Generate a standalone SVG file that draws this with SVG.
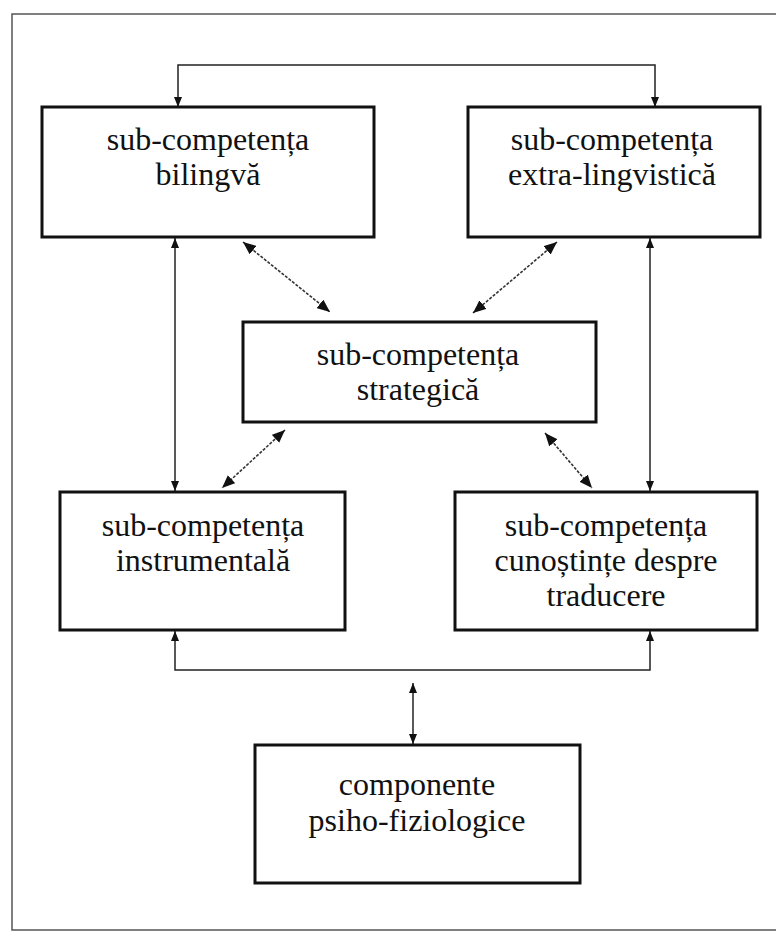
<svg xmlns="http://www.w3.org/2000/svg" width="776" height="932" viewBox="0 0 776 932">
<defs>
<style>
.box{fill:#fff;stroke:#111;stroke-width:3}
.t{font-family:"Liberation Serif","Times New Roman",serif;font-size:32px;fill:#111;text-anchor:middle}
.c{fill:none;stroke:#222;stroke-width:1.5}
.d{fill:none;stroke:#333;stroke-width:1.6;stroke-dasharray:3 1.5}
.frame{fill:none;stroke:#555;stroke-width:1.5}
</style>
<marker id="a" viewBox="0 0 10 8" refX="10" refY="4" markerWidth="10" markerHeight="8" markerUnits="userSpaceOnUse" orient="auto-start-reverse"><path d="M0,0 L10,4 L0,8 Z" fill="#111"/></marker>
<marker id="b" viewBox="0 0 13 11" refX="13" refY="5.5" markerWidth="13" markerHeight="11" markerUnits="userSpaceOnUse" orient="auto-start-reverse"><path d="M0,0 L13,5.5 L0,11 Z" fill="#111"/></marker>
</defs>
<rect width="776" height="932" fill="#fff"/>
<path class="frame" d="M776,14 H12 V930 H776"/>
<g id="connectors">
<path class="c" d="M178,107 V65 H655 V107" marker-start="url(#a)" marker-end="url(#a)"/>
<line class="c" x1="175" y1="238" x2="175" y2="491" marker-start="url(#a)" marker-end="url(#a)"/>
<line class="c" x1="650" y1="238" x2="650" y2="491" marker-start="url(#a)" marker-end="url(#a)"/>
<path class="c" d="M175,631 V670 H650 V631" marker-start="url(#a)" marker-end="url(#a)"/>
<line class="c" x1="413" y1="683" x2="413" y2="744" marker-start="url(#a)" marker-end="url(#a)"/>
<line class="d" x1="243" y1="242" x2="330" y2="312" marker-start="url(#b)" marker-end="url(#b)"/>
<line class="d" x1="557" y1="242" x2="473" y2="313" marker-start="url(#b)" marker-end="url(#b)"/>
<line class="d" x1="285" y1="430" x2="222" y2="488" marker-start="url(#b)" marker-end="url(#b)"/>
<line class="d" x1="545" y1="433" x2="592" y2="488" marker-start="url(#b)" marker-end="url(#b)"/>
</g>
<g id="bilingva">
<rect class="box" x="42" y="107" width="332" height="130"/>
<text class="t" x="208" y="150">sub-competența</text>
<text class="t" x="208" y="185">bilingvă</text>
</g>
<g id="extralingvistica">
<rect class="box" x="468" y="107" width="292" height="130"/>
<text class="t" x="612" y="150">sub-competența</text>
<text class="t" x="612" y="185">extra-lingvistică</text>
</g>
<g id="strategica">
<rect class="box" x="243" y="322" width="353" height="100"/>
<text class="t" x="418" y="365">sub-competența</text>
<text class="t" x="418" y="400">strategică</text>
</g>
<g id="instrumentala">
<rect class="box" x="60" y="492" width="285" height="138"/>
<text class="t" x="203" y="536">sub-competența</text>
<text class="t" x="203" y="571">instrumentală</text>
</g>
<g id="cunostinte">
<rect class="box" x="455" y="492" width="302" height="138"/>
<text class="t" x="606" y="536">sub-competența</text>
<text class="t" x="606" y="571">cunoștințe despre</text>
<text class="t" x="606" y="606">traducere</text>
</g>
<g id="psihofiziologice">
<rect class="box" x="255" y="745" width="325" height="138"/>
<text class="t" x="417" y="795">componente</text>
<text class="t" x="417" y="831">psiho-fiziologice</text>
</g>
</svg>
